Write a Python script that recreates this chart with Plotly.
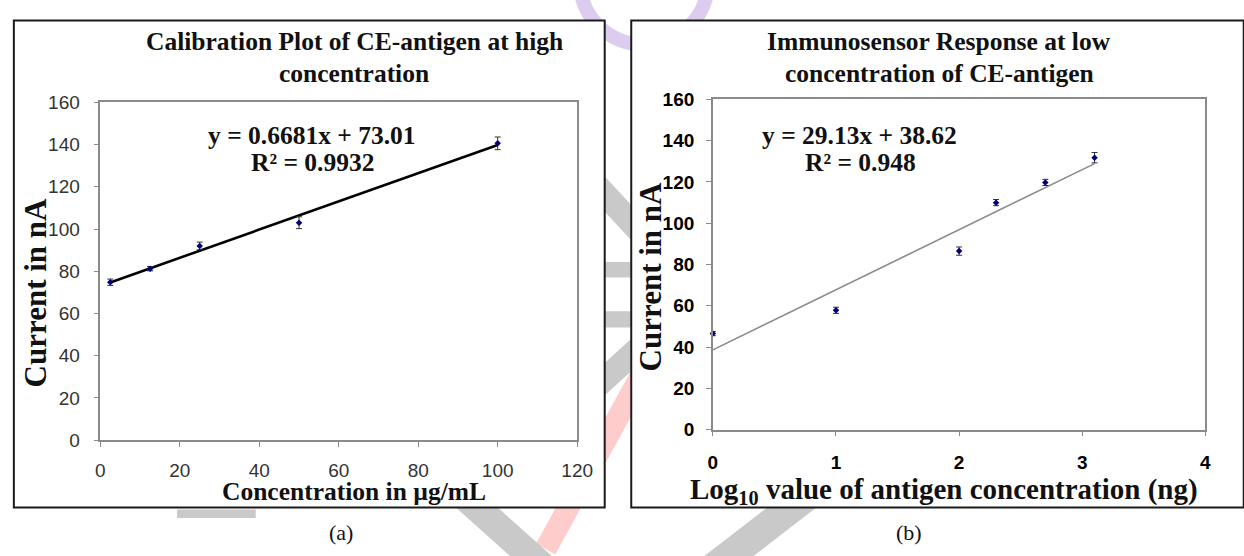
import plotly.graph_objects as go

W, H = 1244, 556

# ---------------- data: panel (a) ----------------
conc_a = [2.5, 12.5, 25, 50, 100]
current_a = [74.8, 81.2, 92.0, 103.0, 140.6]
err_a = [1.5, 1.0, 1.8, 2.8, 3.0]
slope_a, intercept_a, r2_a = 0.6681, 73.01, 0.9932
xticks_a = [0, 20, 40, 60, 80, 100, 120]

# ---------------- data: panel (b) ----------------
logconc_b = [0, 1, 2, 2.3, 2.7, 3.1]
current_b = [46.5, 57.8, 86.5, 110.0, 119.8, 131.8]
err_b = [1.0, 1.5, 2.0, 1.5, 1.5, 2.5]
slope_b, intercept_b, r2_b = 29.13, 38.62, 0.948
xticks_b = [0, 1, 2, 3, 4]

yticks = [0, 20, 40, 60, 80, 100, 120, 140, 160]

xtitle_a = "Concentration in µg/mL"
xtitle_b = "Log<sub>10</sub> value of antigen concentration (ng)"
ytitle = "Current in nA"


def px(x):
    return x / W


def py(y):
    return 1 - y / H


SERIF = "Liberation Serif"
SANS = "Liberation Sans"
NAVY = "#00007a"

fig = go.Figure()

# trend line (a)
xa_fit = [min(conc_a), max(conc_a)]
fig.add_trace(go.Scatter(
    x=xa_fit, y=[slope_a * v + intercept_a for v in xa_fit],
    mode="lines", line=dict(color="black", width=2.6),
    xaxis="x", yaxis="y", showlegend=False, hoverinfo="skip"))
fig.add_trace(go.Scatter(
    x=conc_a, y=current_a, mode="markers",
    marker=dict(symbol="diamond", size=5, color=NAVY),
    error_y=dict(type="data", array=err_a, color="#333333", thickness=1, width=3),
    xaxis="x", yaxis="y", showlegend=False, cliponaxis=False))

# trend line (b)
xb_fit = [min(logconc_b), max(logconc_b)]
fig.add_trace(go.Scatter(
    x=xb_fit, y=[slope_b * v + intercept_b for v in xb_fit],
    mode="lines", line=dict(color="#8a8a8a", width=1.6),
    xaxis="x2", yaxis="y2", showlegend=False, hoverinfo="skip"))
fig.add_trace(go.Scatter(
    x=logconc_b, y=current_b, mode="markers",
    marker=dict(symbol="diamond", size=5, color=NAVY),
    error_y=dict(type="data", array=err_b, color="#333333", thickness=1, width=3),
    xaxis="x2", yaxis="y2", showlegend=False, cliponaxis=False))

axis_common = dict(showgrid=False, zeroline=False, showline=True, mirror=True,
                   linecolor="#8a8a8a", linewidth=1.5, ticks="outside",
                   ticklen=5, tickcolor="#8a8a8a", tickwidth=1.2)

fig.update_layout(
    width=W, height=H,
    margin=dict(l=0, r=0, t=0, b=0),
    paper_bgcolor="white", plot_bgcolor="rgba(0,0,0,0)",
    showlegend=False,
    xaxis=dict(domain=[px(97), px(582)], range=[0, 120], tickvals=xticks_a,
               anchor="y", ticklabelstandoff=7,
               tickfont=dict(family=SANS, size=19, color="#333333"), **axis_common),
    yaxis=dict(domain=[py(447), py(96)], range=[0, 160], tickvals=yticks,
               anchor="x", ticklabelstandoff=10,
               tickfont=dict(family=SANS, size=19, color="#333333"), **axis_common),
    xaxis2=dict(domain=[px(720), px(1221)], range=[0, 4], tickvals=xticks_b,
                anchor="y2", ticklabelstandoff=10,
                tickfont=dict(family=SANS, size=19, color="black", weight="bold"),
                **axis_common),
    yaxis2=dict(domain=[py(436), py(93)], range=[0, 160], tickvals=yticks,
                anchor="x2", ticklabelstandoff=8,
                tickfont=dict(family=SANS, size=19, color="black", weight="bold"),
                **axis_common),
)

# ---------------- watermark (behind the panels) ----------------
shapes = []
GRAY = "#c9c9c9"
PINK = "#ffcccc"
PURPLE = "#dccdf0"


def seg(x0, y0, x1, y1, color, width):
    shapes.append(dict(type="line", xref="paper", yref="paper",
                       x0=px(x0), y0=py(y0), x1=px(x1), y1=py(y1),
                       line=dict(color=color, width=width), layer="below"))


def box(x0, y0, x1, y1, color):
    shapes.append(dict(type="rect", xref="paper", yref="paper",
                       x0=px(x0), y0=py(y0), x1=px(x1), y1=py(y1),
                       fillcolor=color, line=dict(width=0), layer="below"))


shapes.append(dict(type="circle", xref="paper", yref="paper",
                   x0=px(585), y0=py(36), x1=px(715), y1=py(-94),
                   line=dict(color=PURPLE, width=14), layer="below"))
seg(545, 120, 700, 290, GRAY, 24)
box(595, 262, 650, 278, GRAY)
box(595, 313, 650, 330, GRAY)
seg(700, 300, 560, 430, GRAY, 24)
seg(690, 300, 550, 560, PINK, 22)
seg(445, 485, 565, 595, GRAY, 28)
seg(860, 470, 695, 600, GRAY, 30)
box(175, 519, 255, 528, GRAY)

# ---------------- panel boxes ----------------
shapes.append(dict(type="rect", xref="paper", yref="paper",
                   x0=px(9), y0=py(517), x1=px(610), y1=py(11),
                   fillcolor="white", line=dict(color="#1a1a1a", width=2), layer="below"))
shapes.append(dict(type="rect", xref="paper", yref="paper",
                   x0=px(637), y0=py(517), x1=px(1260), y1=py(11),
                   fillcolor="white", line=dict(color="#1a1a1a", width=2), layer="below"))
fig.update_layout(shapes=shapes)

# ---------------- text ----------------
ann = []


def text(x, y, s, size, family=SERIF, bold=True, angle=0, color="#111111"):
    ann.append(dict(xref="paper", yref="paper", x=px(x), y=py(y),
                    xanchor="center", yanchor="middle", showarrow=False,
                    text=("<b>%s</b>" % s) if bold else s, textangle=angle,
                    font=dict(family=family, size=size, color=color)))


# titles
text(355, 33, "Calibration Plot of CE-antigen at high", 25.5)
text(355, 66, "concentration", 25.5)
text(950, 33, "Immunosensor Response at low", 25.5)
text(951, 66, "concentration of CE-antigen", 25.5)

# axis titles
text(31, 293, ytitle, 31, angle=-90)
text(657, 277, ytitle, 31, angle=-90)
text(355, 500, xtitle_a, 25.5)
text(955, 500, xtitle_b, 29)

# equations
text(312, 130, "y = %.4fx + %.2f" % (slope_a, intercept_a), 25.5)
text(313, 159, "R² = %.4f" % r2_a, 25.5)
text(869, 130, "y = %.2fx + %.2f" % (slope_b, intercept_b), 25.5)
text(870, 159, "R² = %.3f" % r2_b, 25.5)

# panel labels
text(342, 543, "(a)", 22, bold=False)
text(920, 543, "(b)", 22, bold=False)

fig.update_layout(annotations=ann)

fig.write_html("out.html")
